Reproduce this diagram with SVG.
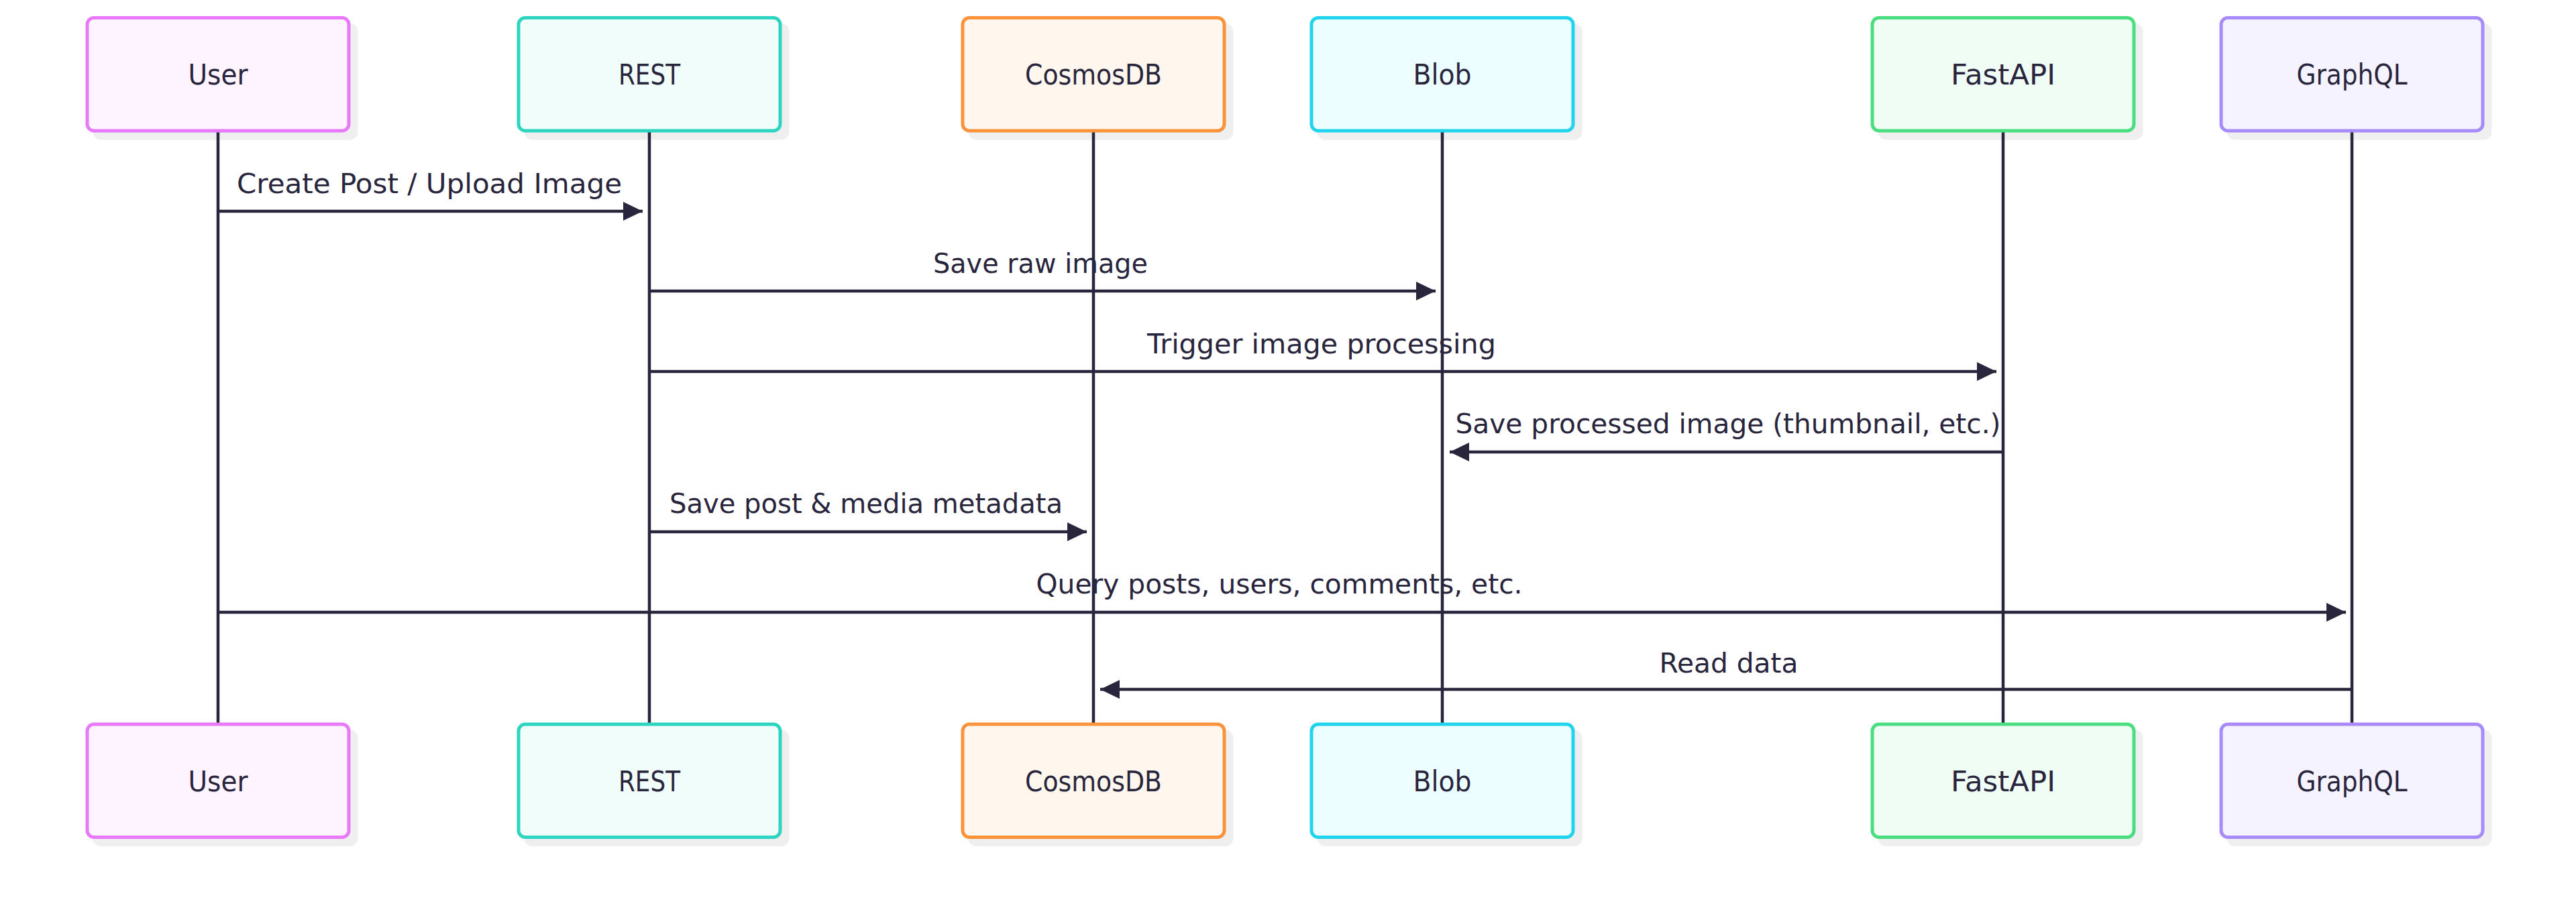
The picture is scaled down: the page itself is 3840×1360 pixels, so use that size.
<svg xmlns="http://www.w3.org/2000/svg" width="3840" height="1360" viewBox="0 0 3840 1360">
<style>
  .shadow { fill: #efefef; }
  .box { stroke-width: 5; }
  .lbl { font-family: "DejaVu Sans", "Liberation Sans", sans-serif; font-size: 41px; fill: #28253d; text-anchor: middle; }
  .act { font-size: 42px; }
  .life { stroke: #28253d; stroke-width: 4.5; fill: none; }
  .msg { stroke: #28253d; stroke-width: 4.5; fill: none; marker-end: url(#arrow); }
  .user { fill: #fdf4ff; stroke: #e879f9; }
  .rest { fill: #f0fdfa; stroke: #2dd4bf; }
  .cosmos { fill: #fff7ed; stroke: #fb923c; }
  .blob { fill: #ecfeff; stroke: #22d3ee; }
  .fast { fill: #f0fdf4; stroke: #4ade80; }
  .gql { fill: #f5f3ff; stroke: #a78bfa; }
</style>
<defs>
  <marker id="arrow" markerUnits="userSpaceOnUse" markerWidth="30" markerHeight="30" refX="29" refY="14" orient="auto" viewBox="0 0 30 30">
    <path d="M0,0 L29,14 L0,28 Z" fill="#28253d"/>
  </marker>
</defs>
<rect width="3840" height="1360" fill="#ffffff"/>

<g id="shadows">
  <rect class="shadow" x="138.5" y="35" width="395" height="173.5" rx="12"/>
  <rect class="shadow" x="781.5" y="35" width="395" height="173.5" rx="12"/>
  <rect class="shadow" x="1443.5" y="35" width="395" height="173.5" rx="12"/>
  <rect class="shadow" x="1963.5" y="35" width="395" height="173.5" rx="12"/>
  <rect class="shadow" x="2799.5" y="35" width="395" height="173.5" rx="12"/>
  <rect class="shadow" x="3319.5" y="35" width="395" height="173.5" rx="12"/>
  <rect class="shadow" x="138.5" y="1088.5" width="395" height="173.5" rx="12"/>
  <rect class="shadow" x="781.5" y="1088.5" width="395" height="173.5" rx="12"/>
  <rect class="shadow" x="1443.5" y="1088.5" width="395" height="173.5" rx="12"/>
  <rect class="shadow" x="1963.5" y="1088.5" width="395" height="173.5" rx="12"/>
  <rect class="shadow" x="2799.5" y="1088.5" width="395" height="173.5" rx="12"/>
  <rect class="shadow" x="3319.5" y="1088.5" width="395" height="173.5" rx="12"/>
</g>

<g id="lifelines">
  <line class="life" x1="325" y1="195" x2="325" y2="1080"/>
  <line class="life" x1="968" y1="195" x2="968" y2="1080"/>
  <line class="life" x1="1630" y1="195" x2="1630" y2="1080"/>
  <line class="life" x1="2150" y1="195" x2="2150" y2="1080"/>
  <line class="life" x1="2986" y1="195" x2="2986" y2="1080"/>
  <line class="life" x1="3506" y1="195" x2="3506" y2="1080"/>
</g>

<g id="actor-user-top">
  <rect class="box user" x="130" y="26.5" width="390" height="168.5" rx="10"/>
  <text class="lbl act" x="325" y="126" textLength="89" lengthAdjust="spacingAndGlyphs">User</text>
</g>
<g id="actor-rest-top">
  <rect class="box rest" x="773" y="26.5" width="390" height="168.5" rx="10"/>
  <text class="lbl act" x="968" y="126" textLength="92" lengthAdjust="spacingAndGlyphs">REST</text>
</g>
<g id="actor-cosmos-top">
  <rect class="box cosmos" x="1435" y="26.5" width="390" height="168.5" rx="10"/>
  <text class="lbl act" x="1630" y="126" textLength="204" lengthAdjust="spacingAndGlyphs">CosmosDB</text>
</g>
<g id="actor-blob-top">
  <rect class="box blob" x="1955" y="26.5" width="390" height="168.5" rx="10"/>
  <text class="lbl act" x="2150" y="126" textLength="87" lengthAdjust="spacingAndGlyphs">Blob</text>
</g>
<g id="actor-fastapi-top">
  <rect class="box fast" x="2791" y="26.5" width="390" height="168.5" rx="10"/>
  <text class="lbl act" x="2986" y="126" textLength="156" lengthAdjust="spacingAndGlyphs">FastAPI</text>
</g>
<g id="actor-graphql-top">
  <rect class="box gql" x="3311" y="26.5" width="390" height="168.5" rx="10"/>
  <text class="lbl act" x="3506" y="126" textLength="165" lengthAdjust="spacingAndGlyphs">GraphQL</text>
</g>

<g id="actor-user-bottom">
  <rect class="box user" x="130" y="1080" width="390" height="168.5" rx="10"/>
  <text class="lbl act" x="325" y="1180" textLength="89" lengthAdjust="spacingAndGlyphs">User</text>
</g>
<g id="actor-rest-bottom">
  <rect class="box rest" x="773" y="1080" width="390" height="168.5" rx="10"/>
  <text class="lbl act" x="968" y="1180" textLength="92" lengthAdjust="spacingAndGlyphs">REST</text>
</g>
<g id="actor-cosmos-bottom">
  <rect class="box cosmos" x="1435" y="1080" width="390" height="168.5" rx="10"/>
  <text class="lbl act" x="1630" y="1180" textLength="204" lengthAdjust="spacingAndGlyphs">CosmosDB</text>
</g>
<g id="actor-blob-bottom">
  <rect class="box blob" x="1955" y="1080" width="390" height="168.5" rx="10"/>
  <text class="lbl act" x="2150" y="1180" textLength="87" lengthAdjust="spacingAndGlyphs">Blob</text>
</g>
<g id="actor-fastapi-bottom">
  <rect class="box fast" x="2791" y="1080" width="390" height="168.5" rx="10"/>
  <text class="lbl act" x="2986" y="1180" textLength="156" lengthAdjust="spacingAndGlyphs">FastAPI</text>
</g>
<g id="actor-graphql-bottom">
  <rect class="box gql" x="3311" y="1080" width="390" height="168.5" rx="10"/>
  <text class="lbl act" x="3506" y="1180" textLength="165" lengthAdjust="spacingAndGlyphs">GraphQL</text>
</g>

<g id="connectors">
  <line class="msg" x1="325" y1="315" x2="958" y2="315"/>
  <text class="lbl" x="640" y="288" textLength="574" lengthAdjust="spacingAndGlyphs">Create Post / Upload Image</text>

  <line class="msg" x1="968" y1="434" x2="2140" y2="434"/>
  <text class="lbl" x="1551" y="407" textLength="320" lengthAdjust="spacingAndGlyphs">Save raw image</text>

  <line class="msg" x1="968" y1="554" x2="2976" y2="554"/>
  <text class="lbl" x="1970" y="527" textLength="520" lengthAdjust="spacingAndGlyphs">Trigger image processing</text>

  <line class="msg" x1="2986" y1="674" x2="2161" y2="674"/>
  <text class="lbl" x="2576" y="646" textLength="813" lengthAdjust="spacingAndGlyphs">Save processed image (thumbnail, etc.)</text>

  <line class="msg" x1="968" y1="793" x2="1620" y2="793"/>
  <text class="lbl" x="1291" y="765" textLength="586" lengthAdjust="spacingAndGlyphs">Save post &amp; media metadata</text>

  <line class="msg" x1="325" y1="913" x2="3497" y2="913"/>
  <text class="lbl" x="1907" y="885" textLength="725" lengthAdjust="spacingAndGlyphs">Query posts, users, comments, etc.</text>

  <line class="msg" x1="3506" y1="1028" x2="1640" y2="1028"/>
  <text class="lbl" x="2577" y="1003" textLength="207" lengthAdjust="spacingAndGlyphs">Read data</text>
</g>
</svg>
